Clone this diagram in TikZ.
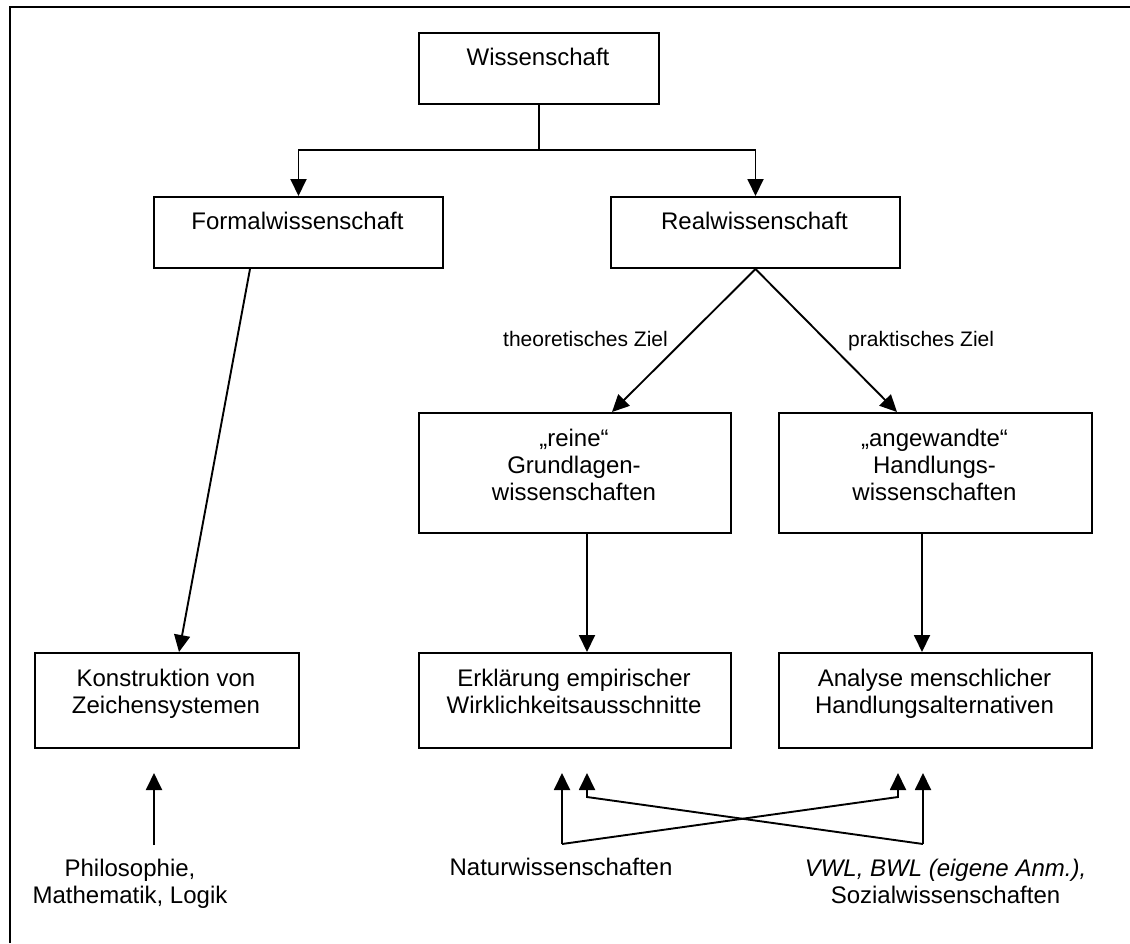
\documentclass[tikz,border=0pt]{standalone}
\usepackage{fontspec}
\setmainfont{Liberation Sans}
\usetikzlibrary{arrows.meta,calc}

\tikzset{
  frame/.style={line width=1.8pt},
  box/.style={draw, line width=2pt, rectangle, inner sep=0pt, anchor=north west},
  txt/.style={inner sep=0pt, align=center, font=\fontsize{24}{27}\selectfont},
  lbl/.style={inner sep=0pt, font=\fontsize{21}{24}\selectfont},
  arr/.style={line width=1.9pt, -{Triangle[length=17pt,width=16pt]}},
}

\begin{document}
\begin{tikzpicture}[x=1pt,y=-1pt]
\useasboundingbox (0,0) rectangle (1130,943);

% outer frame (top and left edges)
\draw[frame] (10,943) -- (10,7) -- (1130,7);

% boxes
\node[box, minimum width=240, minimum height=71] (wis)    at (418,32)  {};
\node[box, minimum width=289, minimum height=71] (formal) at (153,196) {};
\node[box, minimum width=289, minimum height=71] (real)   at (610,196) {};
\node[box, minimum width=312, minimum height=120] (rein)  at (418,412) {};
\node[box, minimum width=313, minimum height=120] (angew) at (778,412) {};
\node[box, minimum width=264, minimum height=95] (konst)  at (34,652)  {};
\node[box, minimum width=312, minimum height=95] (erkl)   at (418,652) {};
\node[box, minimum width=313, minimum height=95] (analy)  at (778,652) {};

% box texts (anchored at the baseline of the last line)
\node[txt, anchor=base] (wis-t)    at (538,65)    {Wissenschaft};
\node[txt, anchor=base] (formal-t) at (297.5,229) {Formalwissenschaft};
\node[txt, anchor=base] (real-t)   at (754.5,229) {Realwissenschaft};
\node[txt, anchor=base] (rein-t)   at (574,500)   {„reine“\\Grundlagen-\\wissenschaften};
\node[txt, anchor=base] (angew-t)  at (934.5,500) {„angewandte“\\Handlungs-\\wissenschaften};
\node[txt, anchor=base] (konst-t)  at (166,713)   {Konstruktion von\\Zeichensystemen};
\node[txt, anchor=base] (erkl-t)   at (574,713)   {Erklärung empirischer\\Wirklichkeitsausschnitte};
\node[txt, anchor=base] (analy-t)  at (934.5,713) {Analyse menschlicher\\Handlungsalternativen};

% edge labels
\node[lbl, anchor=base east] (theo) at (668,346) {theoretisches Ziel};
\node[lbl, anchor=base west] (prak) at (848,346) {praktisches Ziel};

% bottom texts
\node[txt, anchor=base] (phil)  at (130,903)   {Philosophie,\\Mathematik, Logik};
\node[txt, anchor=base] (natur) at (561,875)   {Naturwissenschaften};
\node[txt, anchor=base] (sozw)  at (945.5,903) {\itshape VWL, BWL (eigene Anm.),\\Sozialwissenschaften};

% tree from the top box
\draw[arr] (wis.south) -- ++(0,45) -| (formal.north);
\draw[arr] (wis.south) -- ++(0,45) -| (real.north);

\draw[arr] (real.south) -- ([xshift=194pt]rein.north west);
\draw[arr] (real.south) -- ([xshift=119pt]angew.north west);

\draw[arr] ([xshift=97pt]formal.south west) -- ([xshift=145pt]konst.north west);
\draw[arr] ([xshift=169pt]rein.south west) -- ([xshift=169pt]erkl.north west);
\draw[arr] ([xshift=144pt]angew.south west) -- ([xshift=144pt]analy.north west);

% arrows from the disciplines
\coordinate (phil-a)  at (154,845);
\coordinate (phil-b)  at (154,773);
\coordinate (nat-a)   at (562,844);
\coordinate (soz-a)   at (923,844);
\coordinate (erkl-l)  at (562,773);
\coordinate (erkl-r)  at (587,773);
\coordinate (analy-l) at (898,773);
\coordinate (analy-r) at (923,773);

\draw[arr] (phil-a) -- (phil-b);
\draw[arr] (nat-a) -- (erkl-l);
\draw[arr] (nat-a) -- (analy-l |- 0,797) -- (analy-l);
\draw[arr] (soz-a) -- (analy-r);
\draw[arr] (soz-a) -- (erkl-r |- 0,797) -- (erkl-r);
\end{tikzpicture}
\end{document}
